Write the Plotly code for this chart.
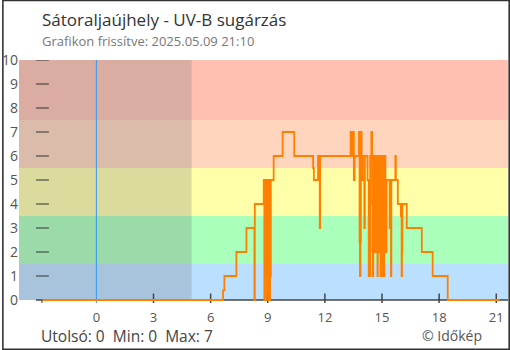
import plotly.graph_objects as go

# UV-B index, recorded as step changes: hour of day (negative = previous evening) -> value
hours = [
    -2.83, 6.65, 6.72, 7.35, 7.88, 8.30, 8.32, 8.79, 8.82, 8.84,
    8.87, 8.88, 8.89, 8.90, 8.91, 8.92, 8.93, 8.94, 8.95, 8.96,
    8.97, 8.98, 8.99, 9.00, 9.01, 9.02, 9.03, 9.04, 9.05, 9.06,
    9.07, 9.08, 9.09, 9.10, 9.11, 9.12, 9.13, 9.14, 9.15, 9.16,
    9.31, 9.78, 10.39, 11.38, 11.42, 11.64, 11.73, 11.75,
    13.35, 13.42, 13.44, 13.52, 13.56, 13.79, 13.82, 13.84, 13.87, 13.89,
    13.93, 13.97, 14.07, 14.10, 14.24, 14.30, 14.33, 14.36, 14.38, 14.44,
    14.48, 14.50, 14.52, 14.54, 14.57, 14.60, 14.62, 14.64, 14.66, 14.68,
    14.70, 14.72, 14.74, 14.76, 14.78, 14.80, 14.82, 14.84, 14.86, 14.88,
    14.90, 14.92, 14.94, 14.96, 14.98, 15.00, 15.02, 15.04, 15.06, 15.08,
    15.10, 15.12, 15.16, 15.18, 15.24, 15.40, 15.42, 15.47, 15.49, 15.70,
    15.73, 15.83, 15.99, 16.03, 16.05, 16.07, 16.30, 17.09, 17.66, 18.45,
    21.17,
]
uv = [
    0, 0.4, 1, 2, 3, 0, 4, 5, 0, 5,
    2.5, 5, 2.5, 5, 2.5, 5, 1, 0, 5, 1,
    5, 1, 5, 1, 5, 1, 5, 1, 0, 5,
    1, 5, 1, 5, 0, 5, 1, 5, 1, 5,
    6, 7, 6, 5.5, 5, 6, 3, 6,
    7, 6, 7, 5, 6, 7, 2.4, 1, 2.4, 7,
    5, 6, 3, 6, 5, 1, 5, 1, 6, 7,
    4, 2, 1, 6, 2, 6, 2, 6, 2, 6,
    3, 6, 2, 1, 6, 2, 5, 2, 6, 2,
    6, 1, 6, 2, 6, 2, 1, 6, 2, 6,
    1, 2, 6, 2, 5, 3, 5, 1, 5, 6,
    5, 4, 3.5, 1, 2, 4, 3, 2, 1, 0,
    0,
]

# UV risk bands (lower, upper, colour)
band_low = [0, 1.5, 3.5, 5.5, 7.5]
band_high = [1.5, 3.5, 5.5, 7.5, 10]
band_colors = ["#bbe0ff", "#aaffbb", "#ffffaa", "#ffd6bd", "#ffc0b1"]

x_ticks = [0, 3, 6, 9, 12, 15, 18, 21]
y_ticks = list(range(0, 11))

X_MIN, X_MAX = -4.064, 21.616
Y_MIN, Y_MAX = -0.125, 10
NIGHT_END = 5.0
NOW_LINE = 0

fig = go.Figure()
fig.add_trace(go.Scatter(
    x=hours, y=uv, mode="lines", line_shape="hv",
    line=dict(color="#ff8000", width=1.8), hoverinfo="skip",
))

shapes = []
for lo, hi, c in zip(band_low, band_high, band_colors):
    shapes.append(dict(type="rect", xref="paper", yref="y", x0=0, x1=1, y0=lo, y1=hi,
                       fillcolor=c, line=dict(width=0), layer="below"))
# night shading
shapes.append(dict(type="rect", xref="x", yref="y", x0=X_MIN, x1=NIGHT_END, y0=0, y1=10,
                   fillcolor="rgba(110,110,120,0.25)", line=dict(width=0), layer="below"))
# y tick dashes inside the plot
for v in y_ticks[1:]:
    shapes.append(dict(type="line", xref="x", yref="y", x0=-3.175, x1=-2.495, y0=v, y1=v,
                       line=dict(color="#333", width=1), layer="below"))
shapes.append(dict(type="line", xref="x", yref="y", x0=-2.86, x1=-2.86, y0=10, y1=10.21,
                   line=dict(color="#333", width=1), layer="below"))
shapes.append(dict(type="line", xref="x", yref="y", x0=-2.86, x1=-2.86, y0=0, y1=-0.29,
                   line=dict(color="#333", width=1), layer="below"))
# x axis line and crossing ticks
shapes.append(dict(type="line", xref="x", yref="y", x0=-3.175, x1=X_MAX, y0=0, y1=0,
                   line=dict(color="#444", width=1.5), layer="below"))
for t in x_ticks[1:]:
    shapes.append(dict(type="line", xref="x", yref="y", x0=t, x1=t, y0=-0.27, y1=0.27,
                       line=dict(color="#444", width=1.5), layer="below"))
# current-day marker
shapes.append(dict(type="line", xref="x", yref="y", x0=NOW_LINE, x1=NOW_LINE, y0=-0.27, y1=10,
                   line=dict(color="#3399ee", width=1), layer="below"))
# outer frame
W, H, L, T, PW, PH = 510, 350, 17, 60, 491, 243
def px(xp):
    return (xp - L) / PW
def py(yp):
    return (T + PH - yp) / PH
shapes.append(dict(type="rect", xref="paper", yref="paper",
                   x0=px(0.8), x1=px(509.2), y0=py(0.5), y1=py(349.2),
                   line=dict(color="#333", width=1.6), fillcolor="rgba(0,0,0,0)"))

annotations = [
    dict(text="Sátoraljaújhely - UV-B sugárzás", x=px(38), y=py(19), xref="paper", yref="paper",
         xanchor="left", yanchor="middle", showarrow=False,
         font=dict(size=17, color="#333")),
    dict(text="Grafikon frissítve: 2025.05.09 21:10", x=px(38), y=py(41), xref="paper", yref="paper",
         xanchor="left", yanchor="middle", showarrow=False,
         font=dict(size=13, color="#777")),
    dict(text="Utolsó: 0\u00a0\u00a0Min: 0\u00a0\u00a0Max: 7", x=px(37), y=py(336), xref="paper", yref="paper",
         xanchor="left", yanchor="middle", showarrow=False,
         font=dict(size=15.5, color="#444")),
    dict(text="© Időkép", x=px(484), y=py(335), xref="paper", yref="paper",
         xanchor="right", yanchor="middle", showarrow=False,
         font=dict(size=14, color="#555")),
]

fig.update_layout(
    width=W, height=H,
    margin=dict(l=L, r=W - L - PW, t=T, b=H - T - PH, pad=0),
    paper_bgcolor="white", plot_bgcolor="white",
    font=dict(family="Open Sans", color="#555"),
    showlegend=False,
    shapes=shapes, annotations=annotations,
    xaxis=dict(range=[X_MIN, X_MAX], tickvals=x_ticks, ticktext=[str(t) for t in x_ticks],
               showgrid=False, zeroline=False, showline=False,
               ticks="outside", ticklen=2, tickcolor="rgba(0,0,0,0)",
               tickfont=dict(size=13, color="#555"), fixedrange=True),
    yaxis=dict(range=[Y_MIN, Y_MAX], tickvals=y_ticks, ticktext=[str(v) for v in y_ticks],
               showgrid=False, zeroline=False, showline=False,
               ticks="", tickfont=dict(size=14, color="#555"), fixedrange=True),
)

fig.write_html("out.html")
